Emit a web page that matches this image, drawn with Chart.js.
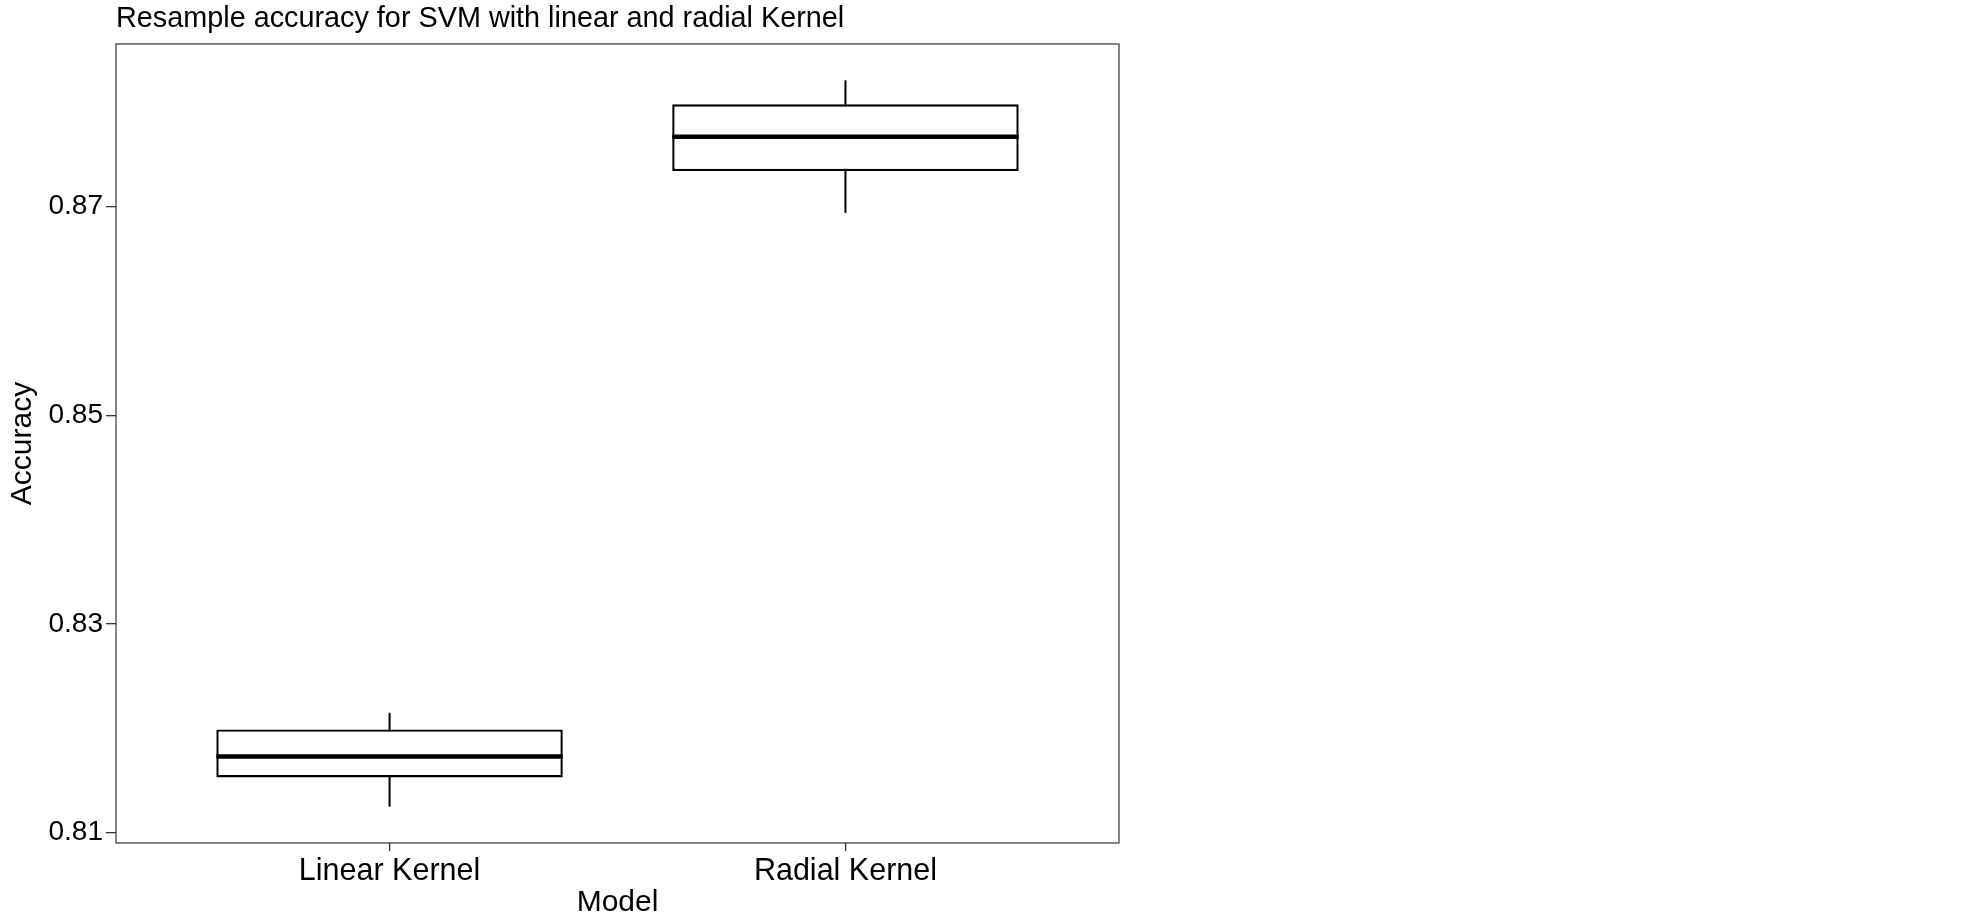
<!DOCTYPE html>
<html>
<head>
<meta charset="utf-8">
<script src="https://cdn.jsdelivr.net/npm/chart.js@4/dist/chart.umd.min.js"></script>
<style>
  html, body { margin: 0; padding: 0; background: #ffffff; }
  #wrap { width: 1985px; height: 918px; position: relative; }
</style>
</head>
<body>
<div id="wrap"><canvas id="c" width="1985" height="918"></canvas></div>
<script>
// ---- data ----
const categories   = ['Linear Kernel', 'Radial Kernel'];
const whiskerLow   = [0.8125, 0.8694];
const lowerQuart   = [0.8153, 0.8734];
const medians      = [0.8173, 0.8767];
const upperQuart   = [0.8199, 0.8798];
const whiskerHigh  = [0.8215, 0.8821];
const yTickValues  = [0.81, 0.83, 0.85, 0.87];

const chartTitle = 'Resample accuracy for SVM with linear and radial Kernel';
const xTitle = 'Model';
const yTitle = 'Accuracy';

// ggplot-like axis expansion
const boxWidth = 0.76;
const dataMin = Math.min(...whiskerLow), dataMax = Math.max(...whiskerHigh);
const ySpan = dataMax - dataMin;
const yMin = dataMin - 0.05 * ySpan;
const yMax = dataMax + 0.05 * ySpan;
const xMin = -0.6, xMax = categories.length - 1 + 0.6;

const FONT = "'Liberation Sans', Arial, sans-serif";

const boxData = categories.map((c, i) => ({ x: i, y: [lowerQuart[i], upperQuart[i]] }));

const whiskerSets = categories.map((c, i) => ({
  type: 'line',
  data: [{ x: i, y: whiskerLow[i] }, { x: i, y: whiskerHigh[i] }],
  borderColor: '#000',
  borderWidth: 2,
  pointRadius: 0,
  fill: false,
  order: 3
}));

const medianSets = categories.map((c, i) => ({
  type: 'line',
  data: [{ x: i - boxWidth / 2, y: medians[i] }, { x: i + boxWidth / 2, y: medians[i] }],
  borderColor: '#000',
  borderWidth: 4.5,
  borderCapStyle: 'butt',
  pointRadius: 0,
  fill: false,
  order: 0
}));

const panelBorder = {
  id: 'panelBorder',
  afterDatasetsDraw(chart) {
    const { ctx, chartArea: a } = chart;
    ctx.save();
    ctx.strokeStyle = '#333333';
    ctx.lineWidth = 1.2;
    ctx.strokeRect(a.left, a.top, a.right - a.left, a.bottom - a.top);
    ctx.restore();
  }
};

new Chart(document.getElementById('c'), {
  type: 'scatter',
  data: {
    datasets: [
      {
        type: 'bar',
        data: boxData,
        backgroundColor: '#ffffff',
        borderColor: '#000',
        borderWidth: 2.4,
        borderSkipped: false,
        barPercentage: boxWidth,
        categoryPercentage: 1,
        order: 2
      },
      ...whiskerSets,
      ...medianSets
    ]
  },
  options: {
    responsive: false,
    devicePixelRatio: 1,
    animation: false,
    layout: { padding: { left: 0, right: 866, top: 0, bottom: 0 } },
    plugins: {
      legend: { display: false },
      tooltip: { enabled: false },
      title: {
        display: true,
        text: chartTitle,
        align: 'start',
        fullSize: false,
        color: '#000',
        font: { family: FONT, size: 28.8, weight: 'normal', lineHeight: 1.2 },
        padding: { top: 1.8, bottom: 7.6 }
      }
    },
    scales: {
      x: {
        type: 'linear',
        min: xMin,
        max: xMax,
        offset: false,
        afterBuildTicks(scale) { scale.ticks = categories.map((c, i) => ({ value: i })); },
        afterFit(scale) { scale.height = 75; },
        ticks: {
          callback: (v) => categories[v] ?? '',
          color: '#000',
          font: { family: FONT, size: 30.5 },
          padding: 2,
          maxRotation: 0,
          autoSkip: false
        },
        grid: { offset: false, drawOnChartArea: false, drawTicks: true, tickLength: 8, color: '#333333', lineWidth: 1.3 },
        border: { display: false },
        title: {
          display: true,
          text: xTitle,
          color: '#000',
          font: { family: FONT, size: 30, lineHeight: 1.0 },
          padding: { top: 0, bottom: 0 }
        }
      },
      y: {
        type: 'linear',
        min: yMin,
        max: yMax,
        afterBuildTicks(scale) { scale.ticks = yTickValues.map(v => ({ value: v })); },
        afterFit(scale) { scale.width = 116; },
        ticks: {
          callback: (v) => Number(v).toFixed(2),
          color: '#000',
          font: { family: FONT, size: 28 },
          padding: 3
        },
        grid: { drawOnChartArea: false, drawTicks: true, tickLength: 10, color: '#333333', lineWidth: 1.3 },
        border: { display: false },
        title: {
          display: true,
          text: yTitle,
          color: '#000',
          font: { family: FONT, size: 30, lineHeight: 1.2 },
          padding: { top: 4.5, bottom: 0 }
        }
      }
    }
  },
  plugins: [panelBorder]
});
</script>
</body>
</html>
